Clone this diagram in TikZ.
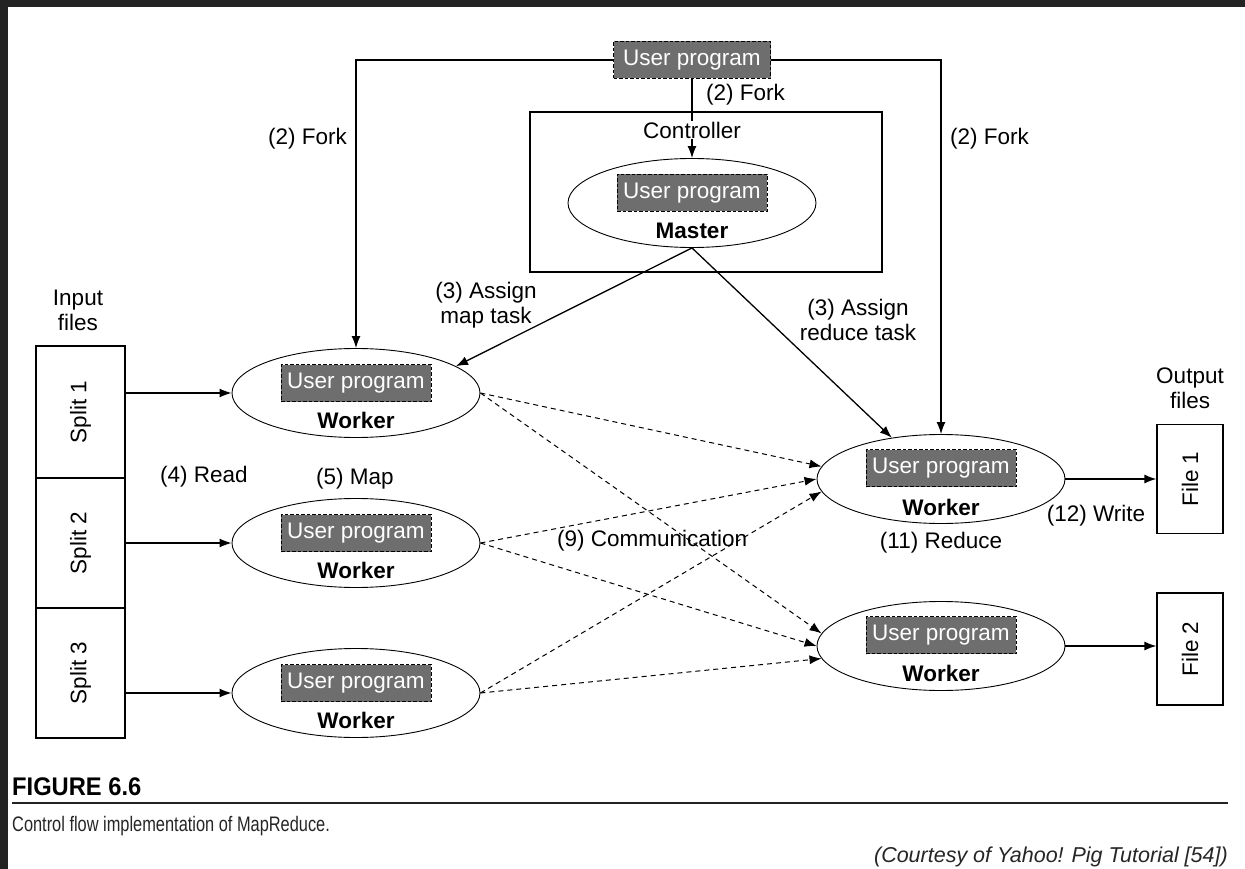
\documentclass[tikz,border=0pt]{standalone}
\usepackage{fontspec}
\setmainfont{Liberation Sans}
\newfontfamily\condfont[FakeStretch=0.78]{Liberation Sans}
\newfontfamily\headfont[FakeStretch=0.93]{Liberation Sans}
\usetikzlibrary{shapes.geometric,arrows.meta}

\definecolor{progray}{HTML}{6E6E6E}
\definecolor{framedark}{HTML}{232323}

\tikzset{
  txt/.style={font=\fontsize{22.5}{26}\selectfont, inner sep=0pt},
  userprog/.style={draw, dash pattern=on 3.5pt off 2pt, line width=1pt, fill=progray,
    text=white, minimum width=150pt, minimum height=37pt, inner sep=0pt,
    font=\fontsize{22.5}{26}\selectfont},
  proc/.style={draw, ellipse, line width=0.9pt, minimum width=248pt, minimum height=89pt, inner sep=0pt},
  filebox/.style={draw, rectangle, line width=1.2pt, inner sep=0pt},
  arr/.style={-{Latex[length=12pt,width=9pt]}, line width=1.3pt},
  shuffle/.style={-{Latex[length=12pt,width=9pt]}, line width=1pt, dash pattern=on 5pt off 4pt},
  plain/.style={line width=1.3pt}
}

\begin{document}
\begin{tikzpicture}[x=1pt,y=-1pt]
\useasboundingbox (0,0) rectangle (1245,869);
\fill[white] (0,0) rectangle (1245,869);
% dark frame along the top and left edges
\fill[framedark] (0,0) rectangle (1245,7);
\fill[framedark] (0,0) rectangle (8,869);

% controller frame
\node[draw, line width=1.2pt, minimum width=352pt, minimum height=160pt, inner sep=0pt] (ctrl) at (706,192) {};

% processes
\node[proc] (master) at (692,203) {};
\node[proc] (w1) at (356,393) {};
\node[proc] (w2) at (356,543) {};
\node[proc] (w3) at (356,693) {};
\node[proc] (r1) at (941,479) {};
\node[proc] (r2) at (941,646) {};

% user program boxes
\node[userprog, minimum width=157pt] (up) at (692,60) {User program};
\node[userprog] (upm) at (692,193) {User program};
\node[userprog] (up1) at (356,383) {User program};
\node[userprog] (up2) at (356,533) {User program};
\node[userprog] (up3) at (356,683) {User program};
\node[userprog] (upr1) at (941,468) {User program};
\node[userprog] (upr2) at (941,635) {User program};

% process names
\node[txt, font=\fontsize{22.5}{26}\selectfont\bfseries] (mname) at (692,231) {Master};
\node[txt, font=\fontsize{22.5}{26}\selectfont\bfseries] (w1name) at (356,420) {Worker};
\node[txt, font=\fontsize{22.5}{26}\selectfont\bfseries] (w2name) at (356,570) {Worker};
\node[txt, font=\fontsize{22.5}{26}\selectfont\bfseries] (w3name) at (356,720) {Worker};
\node[txt, font=\fontsize{22.5}{26}\selectfont\bfseries] (r1name) at (941,507) {Worker};
\node[txt, font=\fontsize{22.5}{26}\selectfont\bfseries] (r2name) at (941,673) {Worker};

% input splits
\node[filebox, minimum width=89pt, minimum height=132pt] (s1) at (80.5,412) {};
\node[filebox, minimum width=89pt, minimum height=130pt] (s2) at (80.5,543) {};
\node[filebox, minimum width=89pt, minimum height=130pt] (s3) at (80.5,673) {};
\node[txt, rotate=90] (s1t) at (s1) {Split 1};
\node[txt, rotate=90] (s2t) at (s2) {Split 2};
\node[txt, rotate=90] (s3t) at (s3) {Split 3};
\node[txt, align=center, font=\fontsize{22.5}{25}\selectfont] (inlab) at (78,310) {Input\\files};

% output files
\node[filebox, minimum width=66pt, minimum height=109pt] (f1) at (1190,479) {};
\node[filebox, minimum width=66pt, minimum height=112pt] (f2) at (1190,649) {};
\node[txt, rotate=90] (f1t) at (f1) {File 1};
\node[txt, rotate=90] (f2t) at (f2) {File 2};
\node[txt, align=center, font=\fontsize{22.5}{25}\selectfont] (outlab) at (1190,388) {Output\\files};

% fork
\draw[arr] (up.west) -| (w1.north);
\draw[arr] (up.east) -| (r1.north);
\draw[arr] (up.south) -- (master.north);
\node[txt, fill=white, inner sep=1pt] (ctrlname) at (692,130) {Controller};
\node[txt, anchor=west] (forkc) at (706,95) {(2) Fork};
\node[txt, anchor=east] (forkl) at (347,139) {(2) Fork};
\node[txt, anchor=west] (forkr) at (950,139) {(2) Fork};

% assignment
\draw[arr] (master.south) -- (w1.15);
\draw[arr] (master.south) -- (r1.140);
\node[txt, align=center, font=\fontsize{22.5}{25}\selectfont] (amap) at (486,305) {(3) Assign\\map task};
\node[txt, align=center, font=\fontsize{22.5}{25}\selectfont] (ared) at (858,320) {(3) Assign\\reduce task};

% reading the splits
\draw[arr] (w1.west -| s1.east) -- (w1.west);
\draw[arr] (w2.west -| s2.east) -- (w2.west);
\draw[arr] (w3.west -| s3.east) -- (w3.west);
\node[txt] (read) at (204,477) {(4) Read};
\node[txt] (map) at (355,479) {(5) Map};

% intermediate data exchange
\draw[shuffle] (w1.east) -- (r1.174);
\draw[shuffle] (w2.east) -- (r1.180);
\draw[shuffle] (w3.east) -- (r1.186);
\draw[shuffle] (w1.east) -- (r2.174);
\draw[shuffle] (w2.east) -- (r2.180);
\draw[shuffle] (w3.east) -- (r2.186);
\node[txt, anchor=west] (comm) at (557,541) {(9) Communication};
\node[txt] (reduce) at (941,543) {(11) Reduce};

% writing the output
\draw[arr] (r1.east) -- (r1.east -| f1.west);
\draw[arr] (r2.east) -- (r2.east -| f2.west);
\node[txt] (write) at (1096,516) {(12) Write};

% caption
\node[anchor=west, inner sep=0pt, font=\headfont\fontsize{25.5}{30}\selectfont\bfseries] (fig) at (12,787) {FIGURE 6.6};
\draw[line width=2pt, color=framedark] (12,803) -- (1228,803);
\node[anchor=west, inner sep=0pt, font=\condfont\fontsize{21}{25}\selectfont, text=black!85] (cap) at (12,826) {Control flow implementation of MapReduce.};
\node[anchor=east, inner sep=0pt, font=\fontsize{21.5}{25}\selectfont\itshape, text=black!85] (credit) at (1228,857) {(Courtesy of Yahoo! Pig Tutorial [54])};
\end{tikzpicture}
\end{document}
